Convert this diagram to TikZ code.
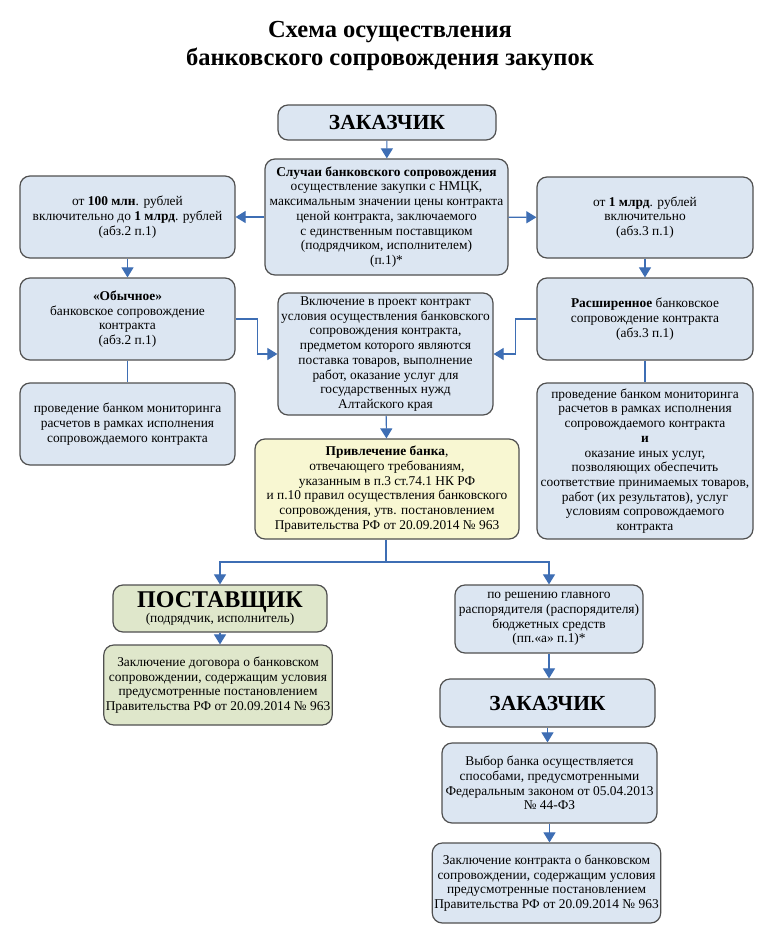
\documentclass[tikz,border=0pt]{standalone}
\usepackage{fontspec}
\setmainfont{Liberation Serif}
\usetikzlibrary{arrows.meta}
\definecolor{boxfill}{RGB}{220,230,242}
\definecolor{boxedge}{RGB}{80,80,80}
\definecolor{bankfill}{RGB}{248,247,210}
\definecolor{supfill}{RGB}{223,231,203}
\definecolor{linkblue}{RGB}{62,110,180}
\tikzset{
    box/.style={draw=boxedge, fill=boxfill, line width=1.2pt, rounded corners=10pt,
        align=center, inner sep=2pt, font=\fontsize{13.4}{14.7}\selectfont},
    link/.style={draw=linkblue, line width=1.1pt, -{Triangle[width=12pt,length=10pt]}},
    bare/.style={draw=linkblue, line width=1.1pt},
}
\begin{document}
\begin{tikzpicture}[x=1pt, y=-1pt]
    \useasboundingbox [fill=white] (0,0) rectangle (781,948);
    \node (title) at (390,46) [align=center, font=\fontsize{24.5}{28}\selectfont\bfseries]
        {Схема осуществления\\ банковского сопровождения закупок};
    % upper part
    \node (zak1) at (387,122.5) [box, minimum width=218pt, minimum height=35pt,
        font=\fontsize{21.5}{24}\selectfont\bfseries] {ЗАКАЗЧИК};
    \node (cases) at (386.5,217) [box, minimum width=243pt, minimum height=116pt]
        {\textbf{Случаи банковского сопровождения}\\ осуществление закупки с НМЦК,\\
        максимальным значении цены контракта\\ ценой контракта, заключаемого\\
        с единственным поставщиком\\ (подрядчиком, исполнителем)\\ (п.1)*};
    \node (left1) at (127.5,217) [box, minimum width=215pt, minimum height=82pt]
        {от \textbf{100 млн}. рублей\\ включительно до \textbf{1 млрд}. рублей\\ (абз.2 п.1)};
    \node (right1) at (645,217.5) [box, minimum width=216pt, minimum height=81pt]
        {от \textbf{1 млрд}. рублей\\ включительно\\ (абз.3 п.1)};
    \node (usual) at (127.5,319) [box, minimum width=215pt, minimum height=82pt]
        {\textbf{«Обычное»}\\ банковское сопровождение\\ контракта\\ (абз.2 п.1)};
    \node (ext) at (645,319) [box, minimum width=216pt, minimum height=82pt]
        {\textbf{Расширенное} банковское\\ сопровождение контракта\\ (абз.3 п.1)};
    \node (incl) at (385.5,354) [box, minimum width=215pt, minimum height=122pt]
        {Включение в проект контракт\\ условия осуществления банковского\\
        сопровождения контракта,\\ предметом которого являются\\
        поставка товаров, выполнение\\ работ, оказание услуг для\\
        государственных нужд\\ Алтайского края};
    \node (monL) at (127.5,424) [box, minimum width=215pt, minimum height=82pt]
        {проведение банком мониторинга\\ расчетов в рамках исполнения\\ сопровождаемого контракта};
    \node (monR) at (645,461) [box, minimum width=216pt, minimum height=156pt]
        {проведение банком мониторинга\\ расчетов в рамках исполнения\\ сопровождаемого контракта\\
        \textbf{и}\\ оказание иных услуг,\\ позволяющих обеспечить\\
        соответствие принимаемых товаров,\\ работ (их результатов), услуг\\
        условиям сопровождаемого\\ контракта};
    \node (bank) at (387,489) [box, fill=bankfill, minimum width=264pt, minimum height=100pt]
        {\textbf{Привлечение банка},\\ отвечающего требованиям,\\ указанным в п.3 ст.74.1 НК РФ\\
        и п.10 правил осуществления банковского\\ сопровождения, утв. постановлением\\
        Правительства РФ от 20.09.2014 № 963};
    % lower part
    \node (supplier) at (220,608.5) [box, fill=supfill, minimum width=214pt, minimum height=47pt]
        {{\fontsize{24}{24}\selectfont\bfseries ПОСТАВЩИК}\\ (подрядчик, исполнитель)};
    \node (contr1) at (218,685) [box, fill=supfill, minimum width=226pt, minimum height=80pt]
        {Заключение договора о банковском\\ сопровождении, содержащим условия\\
        предусмотренные постановлением\\ Правительства РФ от 20.09.2014 № 963};
    \node (decision) at (549,619) [box, minimum width=188pt, minimum height=68pt]
        {по решению главного\\ распорядителя (распорядителя)\\ бюджетных средств\\ (пп.«а» п.1)*};
    \node (zak2) at (547.5,703) [box, minimum width=215pt, minimum height=48pt,
        font=\fontsize{21.5}{24}\selectfont\bfseries] {ЗАКАЗЧИК};
    \node (choice) at (549.5,783) [box, minimum width=215pt, minimum height=80pt]
        {Выбор банка осуществляется\\ способами, предусмотренными\\
        Федеральным законом от 05.04.2013\\ № 44-ФЗ};
    \node (contr2) at (546.5,883) [box, minimum width=225pt, minimum height=80pt]
        {Заключение контракта о банковском\\ сопровождении, содержащим условия\\
        предусмотренные постановлением\\ Правительства РФ от 20.09.2014 № 963};
    % connectors
    \draw [link] (zak1) -- (cases);
    \draw [link] (cases) -- (left1);
    \draw [link] (cases) -- (right1);
    \draw [link] (left1) -- (usual);
    \draw [link] (right1) -- (ext);
    \draw [bare] (usual) -- (monL);
    \draw [bare] (ext) -- (monR);
    \draw [link] (usual.east) -- ++(22,0) |- (incl.west);
    \draw [link] (ext.west) -- ++(-21,0) |- (incl.east);
    \draw [link] (incl) -- (bank);
    \coordinate (split) at (386,562);
    \draw [bare] (bank.south -| split) -- (split);
    \draw [link] (split) -| (supplier.north);
    \draw [link] (split) -| (decision.north);
    \draw [link] (supplier.south) -- (supplier.south |- contr1.north);
    \draw [link] (decision) -- (decision |- zak2.north);
    \draw [link] (zak2.south) -- (zak2.south |- choice.north);
    \draw [link] (choice.south) -- (choice.south |- contr2.north);
\end{tikzpicture}
\end{document}
